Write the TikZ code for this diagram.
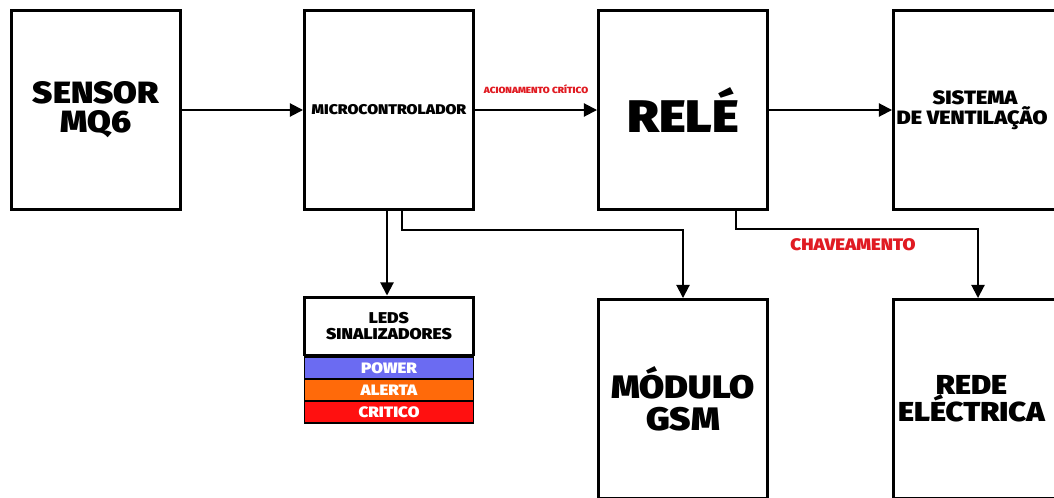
\documentclass[tikz,border=0pt]{standalone}
\usepackage{fontspec}
\setmainfont{Fira Sans}[UprightFont=* Black,BoldFont=* Black,FakeStretch=1.12]
\usetikzlibrary{arrows.meta,calc}
\definecolor{vermelho}{HTML}{E01B22}
\definecolor{azul}{HTML}{6B6BF2}
\definecolor{laranja}{HTML}{FF6A0A}
\definecolor{critico}{HTML}{FF1010}
\begin{document}
\begin{tikzpicture}[x=0.02cm,y=-0.02cm,line join=miter,
	bloco/.style={draw,line width=1.7pt,minimum width=3.38cm,minimum height=3.98cm,align=center,inner sep=0pt},
	seta/.style={line width=1.1pt,-{Triangle[length=7.5pt,width=7.5pt]}},
	barra/.style={draw,line width=0.6pt,minimum width=3.38cm,minimum height=0.44cm,inner sep=0pt,text=white,font=\fontsize{8.6}{8.6}\selectfont},
	rotulo/.style={text=vermelho,inner sep=0pt}]
	\useasboundingbox (0,0) rectangle (1054,497);
	\clip (0,0) rectangle (1054,497);
	\node[bloco,font=\fontsize{17.5}{16.5}\selectfont] (sensor) at (96,110) {SENSOR\\MQ6};
	\node[bloco,font=\fontsize{8}{9}\selectfont] (micro) at (389,110) {MICROCONTROLADOR};
	\node[bloco,font=\fontsize{26}{28}\selectfont] (rele) at (683,110) {RELÉ};
	\node[bloco,font=\fontsize{11}{11.3}\selectfont] (vent) at (978,110) {SISTEMA\kern0.12cm\\DE VENTILAÇÃO\kern0.24cm};
	\node[bloco,font=\fontsize{18.5}{18}\selectfont] (gsm) at (683,399) {MÓDULO\\GSM};
	\node[bloco,font=\fontsize{15.6}{15.5}\selectfont] (rede) at (978,399) {REDE\kern0.26cm\\ELÉCTRICA\kern0.26cm};
	\node[draw,line width=1.7pt,minimum width=3.38cm,minimum height=1.16cm,align=center,inner sep=0pt,font=\fontsize{8.9}{9}\selectfont] (leds) at (389,326) {LEDS\\SINALIZADORES};
	\foreach \t/\c/\y in {POWER/azul/368,ALERTA/laranja/390,CRITICO/critico/412}
		\node[barra,fill=\c] (\t) at (389,\y) {\t};
	\draw[seta] (sensor) -- (micro);
	\draw[seta] (micro) -- node[rotulo,above=3mm,font=\fontsize{5.1}{5}\selectfont] (acion) {ACIONAMENTO CRÍTICO} (rele);
	\draw[seta] (rele) -- (vent);
	\draw[seta] ([xshift=-0.04cm]micro.south) -- ([xshift=-0.04cm]leds.north);
	\draw[seta] ([xshift=0.26cm]micro.south) -- ++(0,19) -| (gsm.north);
	\draw[seta] ([xshift=1.06cm]rele.south) -- ++(0,18) -| (rede.north);
	\node[rotulo,font=\fontsize{9.5}{9}\selectfont] (chav) at (853,245) {CHAVEAMENTO};
\end{tikzpicture}
\end{document}
